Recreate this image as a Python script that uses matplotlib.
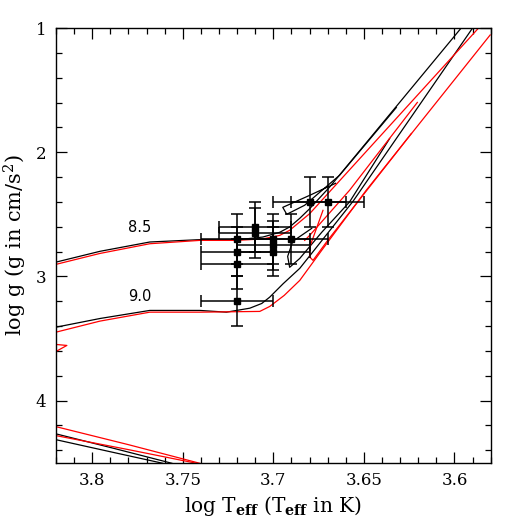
import matplotlib
matplotlib.use('Agg')
import matplotlib.pyplot as plt
from matplotlib.ticker import MultipleLocator

plt.rcParams['font.family'] = 'DejaVu Serif'
plt.rcParams['mathtext.fontset'] = 'dejavuserif'

# stars: log Teff, log g and errors
star_teff = [3.72, 3.72, 3.72, 3.72, 3.71, 3.71, 3.70, 3.70, 3.70, 3.69, 3.68, 3.67]
star_logg = [2.70, 2.80, 2.90, 3.20, 2.60, 2.65, 2.70, 2.75, 2.80, 2.70, 2.40, 2.40]
star_teff_err = [0.02] * 12
star_logg_err = [0.2] * 12

# isochrones (log Teff, log g); black and red models, log age 8.5 and 9.0
b85_teff = [3.820, 3.7957, 3.7682, 3.7406, 3.7202, 3.7058, 3.6965, 3.6910, 3.6854, 3.6799, 3.6689, 3.5963]
b85_logg = [2.885, 2.798, 2.723, 2.704, 2.706, 2.683, 2.645, 2.602, 2.532, 2.454, 2.280, 1.0]
r85_teff = [3.820, 3.7957, 3.7682, 3.7406, 3.7202, 3.7058, 3.6965, 3.6910, 3.6799, 3.5867]
r85_logg = [2.903, 2.815, 2.737, 2.710, 2.710, 2.698, 2.670, 2.629, 2.494, 1.0]
b90_teff = [3.820, 3.7957, 3.7682, 3.7406, 3.7259, 3.7130, 3.7064, 3.7020, 3.6946, 3.6854, 3.6560, 3.5900]
b90_logg = [3.409, 3.339, 3.274, 3.274, 3.288, 3.256, 3.218, 3.167, 3.059, 2.935, 2.395, 1.0]
r90_teff = [3.820, 3.7957, 3.7682, 3.7406, 3.7075, 3.7020, 3.6940, 3.6854, 3.6733, 3.6487, 3.5803]
r90_logg = [3.449, 3.360, 3.288, 3.288, 3.282, 3.242, 3.153, 3.032, 2.790, 2.306, 1.056]

# clump loops and AGB
b85_agb_teff = [3.6656, 3.6799, 3.6948, 3.6926, 3.6827, 3.6634, 3.6321]
b85_agb_logg = [2.250, 2.347, 2.444, 2.500, 2.427, 2.185, 1.640]
b90_agb_teff = [3.6788, 3.6893, 3.6921, 3.6910, 3.6854, 3.6733, 3.6579, 3.6358]
b90_agb_logg = [2.613, 2.718, 2.839, 2.927, 2.855, 2.645, 2.400, 1.890]
r85_agb_teff = [3.6827, 3.6799, 3.6579, 3.6205]
r85_agb_logg = [2.710, 2.669, 2.306, 1.599]
r90_agb_teff = [3.6726, 3.6799, 3.6799, 3.6781, 3.6700, 3.6579, 3.6238]
r90_agb_logg = [2.468, 2.764, 2.844, 2.871, 2.710, 2.484, 1.849]
r90_blue_teff = [3.820, 3.814, 3.8197]
r90_blue_logg = [3.548, 3.556, 3.602]

# main sequence pieces
ms_b1_teff = [3.820, 3.788, 3.756]
ms_b1_logg = [4.268, 4.385, 4.505]
ms_b2_teff = [3.820, 3.790, 3.761]
ms_b2_logg = [4.315, 4.412, 4.505]
ms_r1_teff = [3.820, 3.780, 3.7406]
ms_r1_logg = [4.210, 4.355, 4.505]
ms_r2_teff = [3.820, 3.781, 3.7424]
ms_r2_logg = [4.282, 4.392, 4.505]

fig = plt.figure(figsize=(5.18, 5.18), dpi=100)
ax = fig.add_axes([0.1081, 0.1068, 0.8392, 0.8391])

lw = 0.9
black_lines = [(b85_teff, b85_logg), (b90_teff, b90_logg), (b85_agb_teff, b85_agb_logg),
               (b90_agb_teff, b90_agb_logg), (ms_b1_teff, ms_b1_logg), (ms_b2_teff, ms_b2_logg)]
red_lines = [(r85_teff, r85_logg), (r90_teff, r90_logg), (r85_agb_teff, r85_agb_logg),
             (r90_agb_teff, r90_agb_logg), (r90_blue_teff, r90_blue_logg),
             (ms_r1_teff, ms_r1_logg), (ms_r2_teff, ms_r2_logg)]
for t, g in black_lines:
    ax.plot(t, g, color='black', lw=lw)
for t, g in red_lines:
    ax.plot(t, g, color='red', lw=lw)

ax.errorbar(star_teff, star_logg, xerr=star_teff_err, yerr=star_logg_err,
            fmt='s', color='black', ms=5, elinewidth=1.1, capsize=4, capthick=1.1, zorder=5)

ax.text(3.7737, 2.607, '8.5', ha='center', va='center', fontsize=10.5, family='DejaVu Sans')
ax.text(3.7737, 3.159, '9.0', ha='center', va='center', fontsize=10.5, family='DejaVu Sans')

ax.set_xlim(3.82, 3.58)
ax.set_ylim(4.5, 1.0)
ax.xaxis.set_minor_locator(MultipleLocator(0.01))
ax.yaxis.set_minor_locator(MultipleLocator(0.2))
ax.set_xticks([3.8, 3.75, 3.7, 3.65, 3.6])
ax.set_xticklabels(['3.8', '3.75', '3.7', '3.65', '3.6'])
ax.set_yticks([1, 2, 3, 4])
ax.set_yticklabels(['1', '2', '3', '4'])
ax.tick_params(which='both', direction='in', top=True, right=True, labelsize=12, width=0.9)
ax.tick_params(which='major', length=8, pad=7)
ax.tick_params(which='minor', length=4)
for s in ax.spines.values():
    s.set_linewidth(1.0)

ax.set_xlabel(r'log T$_{\mathbf{eff}}$ (T$_{\mathbf{eff}}$ in K)', fontsize=14.5, labelpad=3)
ax.set_ylabel(r'log g (g in cm/s$^2$)', fontsize=15, labelpad=5)

fig.savefig('out.png', dpi=100)
